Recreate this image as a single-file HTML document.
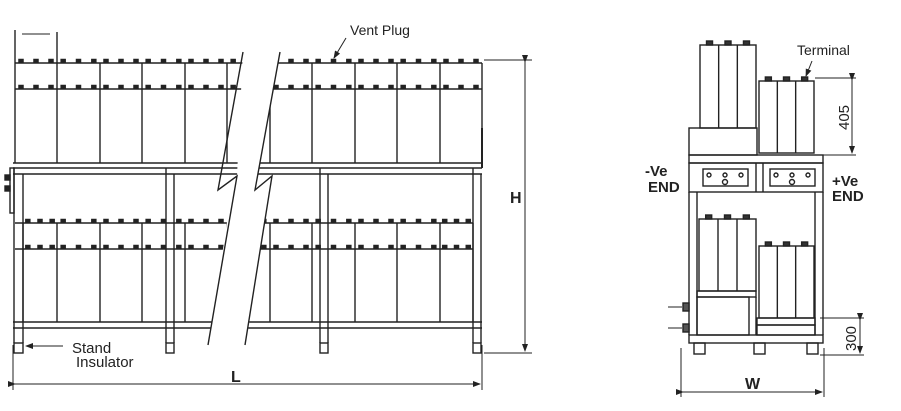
<!DOCTYPE html>
<html><head><meta charset="utf-8"><style>
html,body{margin:0;padding:0;background:#fff;}
svg{display:block;}
text{font-family:"Liberation Sans",Arial,sans-serif;fill:#222;}
</style></head><body>
<svg id="s" width="901" height="411" viewBox="0 0 901 411" xmlns="http://www.w3.org/2000/svg">
<defs>
<marker id="ar" markerWidth="8" markerHeight="6" refX="7" refY="3" orient="auto"><path d="M0,0 L8,3 L0,6 z" fill="#222"/></marker>
</defs>
<g id="g" stroke="#222" stroke-width="1.4" fill="none"></g>
<g stroke="#222" stroke-width="1" fill="none">
<line x1="484" y1="60" x2="532" y2="60"/><line x1="484" y1="353" x2="532" y2="353"/>
<line x1="525" y1="62" x2="525" y2="351" marker-end="url(#ar)" marker-start="url(#ar)"/>
<line x1="13" y1="345" x2="13" y2="390"/><line x1="482" y1="345" x2="482" y2="390"/>
<line x1="15" y1="384" x2="480" y2="384" marker-end="url(#ar)" marker-start="url(#ar)"/>
<line x1="63" y1="346" x2="26" y2="346" marker-end="url(#ar)"/>
<line x1="346" y1="38" x2="334" y2="58" marker-end="url(#ar)"/>
<line x1="812" y1="61" x2="806" y2="76" marker-end="url(#ar)"/>
<line x1="815" y1="78" x2="856" y2="78"/><line x1="815" y1="155" x2="856" y2="155"/>
<line x1="852" y1="80" x2="852" y2="153" marker-end="url(#ar)" marker-start="url(#ar)"/>
<line x1="820" y1="318" x2="864" y2="318"/><line x1="820" y1="355" x2="864" y2="355"/>
<line x1="860" y1="320" x2="860" y2="353" marker-end="url(#ar)" marker-start="url(#ar)"/>
<line x1="681" y1="348" x2="681" y2="397"/><line x1="824" y1="348" x2="824" y2="397"/>
<line x1="683" y1="392" x2="822" y2="392" marker-end="url(#ar)" marker-start="url(#ar)"/>
<line x1="668" y1="307" x2="682" y2="307"/><line x1="668" y1="328" x2="682" y2="328"/>
</g>
<text x="350" y="35" font-size="14">Vent Plug</text>
<text x="510" y="203" font-size="16" font-weight="bold">H</text>
<text x="231" y="382" font-size="16" font-weight="bold">L</text>
<text x="72" y="353" font-size="15">Stand</text>
<text x="76" y="367" font-size="15">Insulator</text>
<text x="797" y="55" font-size="14">Terminal</text>
<text x="645" y="176" font-size="15" font-weight="bold">-Ve</text>
<text x="648" y="192" font-size="15" font-weight="bold">END</text>
<text x="832" y="186" font-size="15" font-weight="bold">+Ve</text>
<text x="832" y="201" font-size="15" font-weight="bold">END</text>
<text x="745" y="389" font-size="16" font-weight="bold">W</text>
<text transform="translate(849,130) rotate(-90)" font-size="15">405</text>
<text transform="translate(856,351) rotate(-90)" font-size="15">300</text>
</svg>
<script>
var g=document.getElementById('g'),NS='http://www.w3.org/2000/svg';
function el(t,a){var e=document.createElementNS(NS,t);for(var k in a)e.setAttribute(k,a[k]);g.appendChild(e);return e;}
function L(a,b,c,d,w){el('line',{x1:a,y1:b,x2:c,y2:d,'stroke-width':w||1.4});}
function R(x,y,w,h,f){el('rect',{x:x,y:y,width:w,height:h,fill:f||'none'});}
function T(x,y){el('rect',{x:x-2.5,y:y-4,width:5,height:4,fill:'#222','stroke-width':0.5});}
function row(top,mid,bot,xs,end){
 L(15,top,end,top);L(15,mid,end,mid);
 xs.forEach(function(x){L(x,top,x,bot);});
 for(var i=0;i<xs.length-1;i++){var w=xs[i+1]-xs[i];[6,21,36].forEach(function(o){T(xs[i]+o*w/42,top);T(xs[i]+o*w/42,mid);});}
}
row(63,89,163,[15,57,100,142,185,227,270,312,355,397,440,482],482);
row(223,249,322,[23,57,100,142,185,227,270,312,355,397,440,473],473);
L(15,30,15,63);L(57,32,57,63);L(22,34,50,34,1);
L(13,163,482,163);L(13,168,482,168);L(13,174,482,174);
L(13,322,482,322);L(13,328,482,328);
[[14,23],[166,174],[320,328],[473,481]].forEach(function(p){L(p[0],168,p[0],343);L(p[1],174,p[1],343);R(p[0],343,p[1]-p[0],10);});
L(482,128,482,168,2);
R(10,168,4,45);R(5,175,5,5,'#222');R(5,186,5,5,'#222');
el('polygon',{points:'243,50 280,50 256,188 272,176 245,350 208,350 232,188 218,190 237,176',fill:'#fff',stroke:'none'});
el('polyline',{points:'243,52 218,190 237,176 208,345'});
el('polyline',{points:'280,52 255,190 272,176 245,345'});
function batt(x,y,w,h){R(x,y,w,h);L(x+w/3,y,x+w/3,y+h);L(x+2*w/3,y,x+2*w/3,y+h);[0.17,0.5,0.83].forEach(function(o){R(x+o*w-3,y-4,6,4,'#333');});}
batt(700,45,56,83);batt(759,81,55,72);
R(689,128,68,27);
R(689,155,134,8);R(689,163,134,29);L(756,163,756,192);L(763,163,763,192);
R(703,169,45,17);R(770,169,45,17);
[[709,175],[725,175],[741,175],[776,175],[792,175],[808,175]].forEach(function(c){el('circle',{cx:c[0],cy:c[1],r:2});});
el('circle',{cx:725,cy:182,r:2.5});el('circle',{cx:792,cy:182,r:2.5});
L(689,192,689,335);L(697,192,697,335);L(815,192,815,335);L(823,192,823,335);
batt(699,219,57,72);R(697,291,59,6);R(697,297,52,38);L(756,297,756,335);
batt(759,246,55,72);R(757,318,58,7);R(757,325,58,10);
R(689,335,134,8);
R(694,343,11,11);R(754,343,11,11);R(807,343,11,11);
R(683,303,6,8,'#555');R(683,324,6,8,'#555');
</script>
</body></html>
